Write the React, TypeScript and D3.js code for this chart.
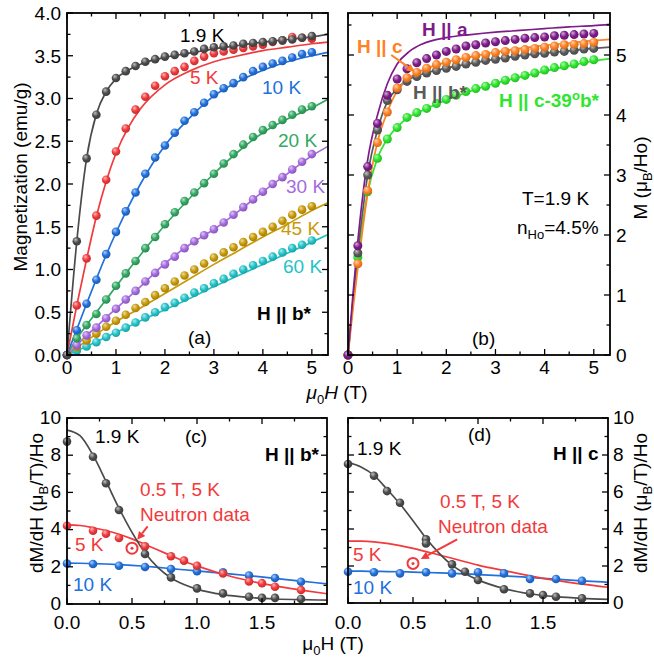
import React from "react";
import * as d3 from "d3";

const FONT = "'Liberation Sans', Arial, Helvetica, sans-serif";
const FS = 19;

// ---------------- Panel (a): M (emu/g) vs H, H || b* ----------------
const H_GRID = [0, 0.2, 0.4, 0.6, 0.8, 1.0, 1.2, 1.4, 1.6, 1.8, 2.0, 2.2, 2.4, 2.6, 2.8, 3.0, 3.2, 3.4, 3.6, 3.8, 4.0, 4.2, 4.4, 4.6, 4.8, 5.0];
const M_A_1p9 = [0, 1.33, 2.30, 2.81, 3.08, 3.24, 3.32, 3.38, 3.43, 3.46, 3.49, 3.51, 3.53, 3.55, 3.58, 3.60, 3.61, 3.62, 3.64, 3.65, 3.66, 3.67, 3.68, 3.69, 3.71, 3.73];
const M_A_5 = [0, 0.58, 1.13, 1.63, 2.05, 2.38, 2.65, 2.87, 3.02, 3.15, 3.26, 3.32, 3.37, 3.44, 3.49, 3.53, 3.55, 3.57, 3.59, 3.61, 3.63, 3.66, 3.68, 3.72, 3.71, 3.70];
const M_A_10 = [0, 0.29, 0.60, 0.88, 1.18, 1.44, 1.68, 1.90, 2.12, 2.31, 2.45, 2.60, 2.74, 2.84, 2.95, 3.05, 3.12, 3.18, 3.25, 3.32, 3.37, 3.41, 3.44, 3.48, 3.52, 3.54];
const M_A_20 = [0, 0.195, 0.35, 0.48, 0.65, 0.81, 0.955, 1.10, 1.25, 1.38, 1.53, 1.67, 1.80, 1.90, 2.01, 2.12, 2.24, 2.35, 2.46, 2.55, 2.63, 2.69, 2.75, 2.81, 2.87, 2.91];
const M_A_30 = [0, 0.115, 0.23, 0.32, 0.43, 0.54, 0.65, 0.75, 0.86, 0.96, 1.06, 1.15, 1.25, 1.33, 1.40, 1.47, 1.55, 1.64, 1.73, 1.82, 1.91, 2.00, 2.08, 2.17, 2.26, 2.35];
const M_A_45 = [0, 0.09, 0.17, 0.25, 0.33, 0.40, 0.47, 0.55, 0.62, 0.70, 0.78, 0.86, 0.93, 1.00, 1.07, 1.14, 1.20, 1.26, 1.32, 1.38, 1.44, 1.50, 1.57, 1.64, 1.70, 1.74];
const M_A_60 = [0, 0.05, 0.10, 0.15, 0.21, 0.26, 0.32, 0.38, 0.44, 0.50, 0.56, 0.61, 0.67, 0.73, 0.78, 0.84, 0.89, 0.95, 1.00, 1.05, 1.10, 1.15, 1.20, 1.25, 1.29, 1.34];

const FIT_H_A = [0, 0.2, 0.4, 0.6, 0.8, 1.0, 1.25, 1.5, 2, 2.5, 3, 3.5, 4, 4.5, 5, 5.33];
const F_A_1p9 = [0, 1.33, 2.30, 2.82, 3.08, 3.23, 3.33, 3.40, 3.48, 3.53, 3.58, 3.62, 3.66, 3.69, 3.72, 3.75];
const F_A_5 = [0, 0.58, 1.12, 1.62, 2.03, 2.36, 2.66, 2.88, 3.16, 3.32, 3.43, 3.50, 3.56, 3.60, 3.64, 3.66];
const F_A_10 = [0, 0.30, 0.60, 0.89, 1.17, 1.43, 1.73, 2.00, 2.45, 2.77, 3.03, 3.20, 3.33, 3.43, 3.50, 3.54];
const F_A_20 = [0, 0.19, 0.35, 0.50, 0.65, 0.80, 0.99, 1.17, 1.52, 1.83, 2.12, 2.38, 2.60, 2.76, 2.89, 2.99];
const F_A_30 = [0, 0.115, 0.23, 0.33, 0.44, 0.54, 0.67, 0.80, 1.07, 1.29, 1.47, 1.68, 1.91, 2.12, 2.33, 2.44];
const F_A_45 = [0, 0.085, 0.165, 0.245, 0.32, 0.39, 0.47, 0.55, 0.72, 0.89, 1.06, 1.22, 1.38, 1.53, 1.69, 1.78];
const F_A_60 = [0, 0.05, 0.10, 0.155, 0.21, 0.265, 0.33, 0.40, 0.53, 0.66, 0.80, 0.93, 1.06, 1.19, 1.32, 1.41];

// ---------------- Panel (b): M (muB/Ho) vs H at 1.9 K ----------------
const M_B_a = [0, 1.82, 3.14, 3.86, 4.33, 4.60, 4.77, 4.87, 4.94, 5.00, 5.06, 5.10, 5.15, 5.17, 5.20, 5.22, 5.24, 5.26, 5.28, 5.29, 5.30, 5.32, 5.33, 5.34, 5.35, 5.36];
const M_B_c = [0, 1.52, 2.74, 3.54, 4.05, 4.45, 4.62, 4.71, 4.78, 4.84, 4.88, 4.92, 4.96, 4.99, 5.01, 5.04, 5.06, 5.07, 5.09, 5.11, 5.13, 5.15, 5.17, 5.18, 5.19, 5.21];
const M_B_b = [0, 1.70, 3.00, 3.75, 4.24, 4.42, 4.56, 4.64, 4.70, 4.74, 4.78, 4.81, 4.85, 4.88, 4.91, 4.93, 4.95, 4.98, 5.00, 5.02, 5.03, 5.05, 5.06, 5.08, 5.10, 5.11];
const M_B_c39 = [0, 1.63, 2.72, 3.28, 3.60, 3.79, 3.96, 4.04, 4.11, 4.19, 4.26, 4.33, 4.39, 4.44, 4.48, 4.53, 4.58, 4.62, 4.66, 4.70, 4.75, 4.79, 4.82, 4.85, 4.89, 4.92];

const FIT_H_B = [0, 0.1, 0.2, 0.3, 0.4, 0.6, 0.8, 1.0, 1.25, 1.5, 2, 2.5, 3, 3.5, 4, 4.5, 5, 5.33];
const F_B_a = [0, 1.0, 1.9, 2.65, 3.25, 4.0, 4.52, 4.85, 5.06, 5.18, 5.29, 5.34, 5.38, 5.41, 5.44, 5.47, 5.49, 5.51];
const F_B_c = [0, 0.75, 1.45, 2.1, 2.7, 3.55, 4.05, 4.4, 4.62, 4.74, 4.88, 4.97, 5.05, 5.11, 5.16, 5.20, 5.24, 5.26];
const F_B_b = [0, 0.9, 1.72, 2.4, 3.0, 3.75, 4.22, 4.44, 4.6, 4.68, 4.78, 4.86, 4.93, 4.99, 5.03, 5.07, 5.11, 5.13];
const F_B_c39 = [0, 0.85, 1.6, 2.2, 2.7, 3.28, 3.6, 3.8, 3.97, 4.07, 4.25, 4.4, 4.53, 4.63, 4.73, 4.82, 4.9, 4.94];

// ---------------- Panel (c): dM/dH, H || b* ----------------
const C_H_1p9 = [0, 0.2, 0.3, 0.4, 0.6, 0.8, 1.0, 1.2, 1.4, 1.5, 1.6, 1.8];
const C_1p9 = [8.73, 7.92, 6.49, 5.05, 2.69, 1.43, 0.84, 0.57, 0.39, 0.33, 0.33, 0.27];
const C_H_5 = [0, 0.2, 0.3, 0.4, 0.6, 0.8, 0.9, 1.0, 1.2, 1.4, 1.5, 1.6, 1.8];
const C_5 = [4.21, 3.94, 3.78, 3.55, 3.1, 2.57, 2.33, 2.06, 1.64, 1.21, 1.12, 0.93, 0.75];
const C_H_10 = [0, 0.2, 0.4, 0.6, 0.8, 1.0, 1.2, 1.4, 1.6, 1.8];
const C_10 = [2.18, 2.15, 2.06, 1.99, 1.88, 1.76, 1.71, 1.53, 1.40, 1.2];
const FIT_H_CD = [0, 0.1, 0.2, 0.3, 0.4, 0.5, 0.6, 0.7, 0.8, 0.9, 1.0, 1.2, 1.4, 1.6, 1.8, 2.0];
const F_C_1p9 = [9.35, 9.05, 8.0, 6.6, 5.15, 3.85, 2.75, 1.95, 1.4, 1.05, 0.8, 0.5, 0.35, 0.27, 0.23, 0.21];
const F_C_5 = [4.25, 4.22, 4.1, 3.95, 3.75, 3.5, 3.2, 2.9, 2.6, 2.3, 2.05, 1.6, 1.25, 0.97, 0.75, 0.55];
const F_C_10 = [2.2, 2.19, 2.17, 2.15, 2.12, 2.08, 2.03, 1.97, 1.9, 1.84, 1.78, 1.65, 1.52, 1.38, 1.23, 1.08];
const NEUTRON_C = [0.5, 3.0];

// ---------------- Panel (d): dM/dH, H || c ----------------
const D_H_1p9 = [0, 0.2, 0.3, 0.4, 0.6, 0.6, 0.8, 0.9, 1.0, 1.2, 1.4, 1.5, 1.6, 1.8];
const D_1p9 = [7.51, 6.88, 6.05, 5.42, 3.44, 3.22, 2.09, 1.69, 1.24, 0.74, 0.52, 0.43, 0.34, 0.25];
const D_H_10 = [0, 0.2, 0.4, 0.6, 0.8, 1.0, 1.2, 1.4, 1.6, 1.8];
const D_10 = [1.69, 1.66, 1.6, 1.66, 1.6, 1.66, 1.6, 1.3, 1.3, 1.2];
const F_D_1p9 = [7.6, 7.35, 6.9, 6.15, 5.35, 4.45, 3.5, 2.7, 2.05, 1.6, 1.25, 0.78, 0.5, 0.34, 0.25, 0.2];
const F_D_5 = [3.35, 3.34, 3.3, 3.22, 3.1, 2.95, 2.78, 2.6, 2.42, 2.23, 2.05, 1.75, 1.47, 1.22, 1.02, 0.85];
const F_D_10 = [1.72, 1.72, 1.71, 1.7, 1.69, 1.67, 1.65, 1.63, 1.6, 1.57, 1.54, 1.47, 1.38, 1.29, 1.2, 1.12];
const NEUTRON_D = [0.5, 2.14];

// ticks
const A_XMAJ = [0, 1, 2, 3, 4, 5];
const A_YMAJ = [0, 0.5, 1, 1.5, 2, 2.5, 3, 3.5, 4];
const B_YMAJ = [0, 1, 2, 3, 4, 5];
const CD_XMAJ = [0, 0.5, 1, 1.5];
const CD_YMAJ = [0, 2, 4, 6, 8, 10];

const COL = {
  k: "#4b4b4b",
  r: "#f2393b",
  bl: "#2170dc",
  g: "#32a862",
  p: "#a56be0",
  y: "#c99a08",
  cy: "#22c3c8",
  pa: "#7e1b8a",
  or: "#ff8224",
  gb: "#5a5a5a",
  lg: "#2de62d",
};

type Sc = d3.ScaleLinear<number, number>;

function Balls({ xs, ys, hx, vy, id, r = 4.3 }: { xs: Sc; ys: Sc; hx: number[]; vy: number[]; id: string; r?: number }) {
  return (
    <g>
      {hx.map((h, i) => (
        <circle key={i} cx={xs(h)} cy={ys(vy[i])} r={r} fill={`url(#g-${id})`} />
      ))}
    </g>
  );
}

function Fit({ xs, ys, hx, vy, color, clip }: { xs: Sc; ys: Sc; hx: number[]; vy: number[]; color: string; clip: string }) {
  const line = d3
    .line<number>()
    .x((_, i) => xs(hx[i]))
    .y((d) => ys(d))
    .curve(d3.curveMonotoneX);
  return <path d={line(vy) || ""} fill="none" stroke={color} strokeWidth={1.7} clipPath={`url(#${clip})`} />;
}

function Frame({ xs, ys, xMaj, xMin, yMaj, yMin }: { xs: Sc; ys: Sc; xMaj: number[]; xMin: number[]; yMaj: number[]; yMin: number[] }) {
  const [x0, x1] = xs.range();
  const [y0, y1] = ys.range();
  const L = 6, l = 3.5;
  const segs: [number, number, number, number][] = [];
  xMaj.forEach((v) => { const x = xs(v); segs.push([x, y0, x, y0 - L], [x, y1, x, y1 + L]); });
  xMin.forEach((v) => { const x = xs(v); segs.push([x, y0, x, y0 - l], [x, y1, x, y1 + l]); });
  yMaj.forEach((v) => { const y = ys(v); segs.push([x0, y, x0 + L, y], [x1, y, x1 - L, y]); });
  yMin.forEach((v) => { const y = ys(v); segs.push([x0, y, x0 + l, y], [x1, y, x1 - l, y]); });
  return (
    <g>
      {segs.map((s, i) => (
        <line key={i} x1={s[0]} y1={s[1]} x2={s[2]} y2={s[3]} stroke="#000" strokeWidth={1.3} />
      ))}
      <rect x={x0} y={y1} width={x1 - x0} height={y0 - y1} fill="none" stroke="#000" strokeWidth={1.8} />
    </g>
  );
}

function Arrow({ x1, y1, x2, y2, color }: { x1: number; y1: number; x2: number; y2: number; color: string }) {
  const a = Math.atan2(y2 - y1, x2 - x1);
  const len = 8, w = 4;
  const bx = x2 - len * Math.cos(a), by = y2 - len * Math.sin(a);
  const p = `${x2},${y2} ${bx + w * Math.sin(a)},${by - w * Math.cos(a)} ${bx - w * Math.sin(a)},${by + w * Math.cos(a)}`;
  return (
    <g>
      <line x1={x1} y1={y1} x2={bx} y2={by} stroke={color} strokeWidth={2} />
      <polygon points={p} fill={color} />
    </g>
  );
}

function Neutron({ x, y }: { x: number; y: number }) {
  return (
    <g>
      <circle cx={x} cy={y} r={5.5} fill="#fff" stroke={COL.r} strokeWidth={2} />
      <circle cx={x} cy={y} r={1.5} fill={COL.r} />
    </g>
  );
}

function Grad({ id, color }: { id: string; color: string }) {
  const c = d3.color(color)!;
  const light = d3.interpolateRgb(color, "#ffffff")(0.65);
  return (
    <radialGradient id={`g-${id}`} cx="0.42" cy="0.4" r="0.62" fx="0.35" fy="0.3">
      <stop offset="0" stopColor={light} />
      <stop offset="0.55" stopColor={color} />
      <stop offset="1" stopColor={c.darker(0.6).formatHex()} />
    </radialGradient>
  );
}

function range(a: number, b: number, s: number) {
  return d3.range(a, b + 1e-9, s);
}

export default function App() {
  const xA = d3.scaleLinear().domain([0, 5.33]).range([67, 328]);
  const yA = d3.scaleLinear().domain([0, 4]).range([355, 13]);
  const xB = d3.scaleLinear().domain([0, 5.33]).range([348, 610]);
  const yB = d3.scaleLinear().domain([0, 5.7]).range([355, 13]);
  const xC = d3.scaleLinear().domain([0, 2]).range([67, 327]);
  const yC = d3.scaleLinear().domain([0, 10]).range([604, 418]);
  const xD = d3.scaleLinear().domain([0, 2]).range([348, 608]);
  const yD = d3.scaleLinear().domain([0, 10]).range([603, 418]);

  const seriesA = [
    { id: "a60", c: COL.cy, m: M_A_60, f: F_A_60 },
    { id: "a45", c: COL.y, m: M_A_45, f: F_A_45 },
    { id: "a30", c: COL.p, m: M_A_30, f: F_A_30 },
    { id: "a20", c: COL.g, m: M_A_20, f: F_A_20 },
    { id: "a10", c: COL.bl, m: M_A_10, f: F_A_10 },
    { id: "a5", c: COL.r, m: M_A_5, f: F_A_5 },
    { id: "a19", c: COL.k, m: M_A_1p9, f: F_A_1p9 },
  ];
  const seriesB = [
    { id: "bc39", c: COL.lg, m: M_B_c39, f: F_B_c39 },
    { id: "bb", c: COL.gb, m: M_B_b, f: F_B_b },
    { id: "bc", c: COL.or, m: M_B_c, f: F_B_c },
    { id: "ba", c: COL.pa, m: M_B_a, f: F_B_a },
  ];

  const txt = { fontFamily: FONT, fontSize: FS };
  const sub = (s: string, rest: string) => (
    <>
      <tspan dy={5} fontSize={13}>{s}</tspan>
      <tspan dy={-5}>{rest}</tspan>
    </>
  );

  return (
    <svg width={654} height={660} style={{ position: "absolute", left: 0, top: 0, background: "#fff" }}>
      <defs>
        {[...seriesA, ...seriesB].map((s) => <Grad key={s.id} id={s.id} color={s.c} />)}
        <Grad id="ck" color={COL.k} />
        <Grad id="cr" color={COL.r} />
        <Grad id="cb" color={COL.bl} />
        <clipPath id="clipA"><rect x={67} y={13} width={261} height={342} /></clipPath>
        <clipPath id="clipB"><rect x={348} y={13} width={262} height={342} /></clipPath>
        <clipPath id="clipC"><rect x={67} y={418} width={260} height={186} /></clipPath>
        <clipPath id="clipD"><rect x={348} y={418} width={260} height={185} /></clipPath>
      </defs>
      <rect width={654} height={660} fill="#fff" />

      {/* ---------- Panel (a) ---------- */}
      {seriesA.map((s) => <Fit key={s.id} xs={xA} ys={yA} hx={FIT_H_A} vy={s.f} color={s.c} clip="clipA" />)}
      {seriesA.map((s) => <Balls key={s.id} xs={xA} ys={yA} hx={H_GRID} vy={s.m} id={s.id} />)}
      <Frame xs={xA} ys={yA} xMaj={A_XMAJ} xMin={[0.5, 1.5, 2.5, 3.5, 4.5]} yMaj={A_YMAJ} yMin={range(0.25, 3.75, 0.5)} />
      {A_YMAJ.map((v) => (
        <text key={v} x={61} y={yA(v)} dy="0.36em" textAnchor="end" {...txt}>{v.toFixed(1)}</text>
      ))}
      {A_XMAJ.map((v) => (
        <text key={v} x={xA(v)} y={374} textAnchor="middle" {...txt}>{v}</text>
      ))}
      <g {...txt}>
        <text x={180} y={42} fill="#000">1.9 K</text>
        <text x={190} y={84} fill={COL.r}>5 K</text>
        <text x={262} y={94} fill={COL.bl}>10 K</text>
        <text x={278} y={147} fill={COL.g}>20 K</text>
        <text x={286} y={193} fill={COL.p}>30 K</text>
        <text x={281} y={235} fill={COL.y}>45 K</text>
        <text x={283} y={273} fill={COL.cy}>60 K</text>
        <text x={257} y={320} fontWeight="bold">H || b*</text>
        <text x={188} y={344}>(a)</text>
      </g>
      <text transform="translate(27,177) rotate(-90)" textAnchor="middle" {...txt}>Magnetization (emu/g)</text>

      {/* ---------- Panel (b) ---------- */}
      {seriesB.map((s) => <Fit key={s.id} xs={xB} ys={yB} hx={FIT_H_B} vy={s.f} color={s.c} clip="clipB" />)}
      {seriesB.map((s) => <Balls key={s.id} xs={xB} ys={yB} hx={H_GRID} vy={s.m} id={s.id} r={4.5} />)}
      <Frame xs={xB} ys={yB} xMaj={A_XMAJ} xMin={[0.5, 1.5, 2.5, 3.5, 4.5]} yMaj={B_YMAJ} yMin={[0.5, 1.5, 2.5, 3.5, 4.5, 5.5]} />
      {B_YMAJ.map((v) => (
        <text key={v} x={616} y={yB(v)} dy="0.36em" textAnchor="start" {...txt}>{v}</text>
      ))}
      {A_XMAJ.map((v) => (
        <text key={v} x={xB(v)} y={374} textAnchor="middle" {...txt}>{v}</text>
      ))}
      <g {...txt}>
        <text x={422} y={36} fill={COL.pa} fontWeight="bold">H || a</text>
        <text x={357} y={53} fill={COL.or} fontWeight="bold">H || c</text>
        <text x={413} y={99} fill={COL.gb} fontWeight="bold">H || b*</text>
        <text x={499} y={107} fill={COL.lg} fontWeight="bold">
          H || c-39<tspan dy={-7} fontSize={13}>o</tspan><tspan dy={7}>b*</tspan>
        </text>
        <text x={522} y={205}>T=1.9 K</text>
        <text x={517} y={234}>n{sub("Ho", "=4.5%")}</text>
        <text x={472} y={345}>(b)</text>
      </g>
      <Arrow x1={xB(0.88)} y1={yB(5.0)} x2={xB(1.36)} y2={yB(4.72)} color={COL.or} />
      <text transform="translate(647,178) rotate(-90)" textAnchor="middle" {...txt}>
        M (μ{sub("B", "/Ho)")}
      </text>

      <text x={337} y={399} textAnchor="middle" {...txt}>
        <tspan fontStyle="italic">μ</tspan>
        <tspan dy={5} fontSize={13}>0</tspan>
        <tspan dy={-5} fontStyle="italic">H</tspan>
        <tspan> (T)</tspan>
      </text>

      {/* ---------- Panel (c) ---------- */}
      <Fit xs={xC} ys={yC} hx={FIT_H_CD} vy={F_C_10} color={COL.bl} clip="clipC" />
      <Fit xs={xC} ys={yC} hx={FIT_H_CD} vy={F_C_5} color={COL.r} clip="clipC" />
      <Fit xs={xC} ys={yC} hx={FIT_H_CD} vy={F_C_1p9} color={COL.k} clip="clipC" />
      <Balls xs={xC} ys={yC} hx={C_H_10} vy={C_10} id="cb" />
      <Balls xs={xC} ys={yC} hx={C_H_5} vy={C_5} id="cr" />
      <Balls xs={xC} ys={yC} hx={C_H_1p9} vy={C_1p9} id="ck" />
      <Neutron x={xC(NEUTRON_C[0])} y={yC(NEUTRON_C[1])} />
      <Arrow x1={xC(0.62)} y1={yC(4.17)} x2={xC(0.54)} y2={yC(3.45)} color={COL.r} />
      <Frame xs={xC} ys={yC} xMaj={CD_XMAJ} xMin={[0.25, 0.75, 1.25, 1.75]} yMaj={CD_YMAJ} yMin={[1, 3, 5, 7, 9]} />
      {CD_YMAJ.map((v) => (
        <text key={v} x={61} y={yC(v)} dy="0.3em" textAnchor="end" {...txt}>{v}</text>
      ))}
      {CD_XMAJ.map((v) => (
        <text key={v} x={xC(v)} y={629} textAnchor="middle" {...txt}>{v.toFixed(1)}</text>
      ))}
      <g {...txt}>
        <text x={95} y={443}>1.9 K</text>
        <text x={185} y={443}>(c)</text>
        <text x={265} y={461} fontWeight="bold">H || b*</text>
        <text x={140} y={496} fill={COL.r}>0.5 T, 5 K</text>
        <text x={140} y={521} fill={COL.r}>Neutron data</text>
        <text x={75} y={551} fill={COL.r}>5 K</text>
        <text x={73} y={591} fill={COL.bl}>10 K</text>
      </g>
      <text transform="translate(43,503) rotate(-90)" textAnchor="middle" {...txt}>
        dM/dH (μ{sub("B", "/T)/Ho")}
      </text>

      {/* ---------- Panel (d) ---------- */}
      <Fit xs={xD} ys={yD} hx={FIT_H_CD} vy={F_D_10} color={COL.bl} clip="clipD" />
      <Fit xs={xD} ys={yD} hx={FIT_H_CD} vy={F_D_5} color={COL.r} clip="clipD" />
      <Fit xs={xD} ys={yD} hx={FIT_H_CD} vy={F_D_1p9} color={COL.k} clip="clipD" />
      <Balls xs={xD} ys={yD} hx={D_H_10} vy={D_10} id="cb" />
      <Balls xs={xD} ys={yD} hx={D_H_1p9} vy={D_1p9} id="ck" />
      <Neutron x={xD(NEUTRON_D[0])} y={yD(NEUTRON_D[1])} />
      <Arrow x1={xD(0.84)} y1={yD(3.44)} x2={xD(0.56)} y2={yD(2.38)} color={COL.r} />
      <Frame xs={xD} ys={yD} xMaj={CD_XMAJ} xMin={[0.25, 0.75, 1.25, 1.75]} yMaj={CD_YMAJ} yMin={[1, 3, 5, 7, 9]} />
      {CD_YMAJ.map((v) => (
        <text key={v} x={613} y={yD(v)} dy="0.3em" textAnchor="start" {...txt}>{v}</text>
      ))}
      {CD_XMAJ.map((v) => (
        <text key={v} x={xD(v)} y={629} textAnchor="middle" {...txt}>{v.toFixed(1)}</text>
      ))}
      <g {...txt}>
        <text x={357} y={455}>1.9 K</text>
        <text x={468} y={441}>(d)</text>
        <text x={553} y={460} fontWeight="bold">H || c</text>
        <text x={440} y={508} fill={COL.r}>0.5 T, 5 K</text>
        <text x={438} y={533} fill={COL.r}>Neutron data</text>
        <text x={353} y={561} fill={COL.r}>5 K</text>
        <text x={353} y={594} fill={COL.bl}>10 K</text>
      </g>
      <text transform="translate(647,503) rotate(-90)" textAnchor="middle" {...txt}>
        dM/dH (μ{sub("B", "/T)/Ho")}
      </text>

      <text x={333} y={650} textAnchor="middle" {...txt}>
        μ{sub("0", "H (T)")}
      </text>
    </svg>
  );
}
